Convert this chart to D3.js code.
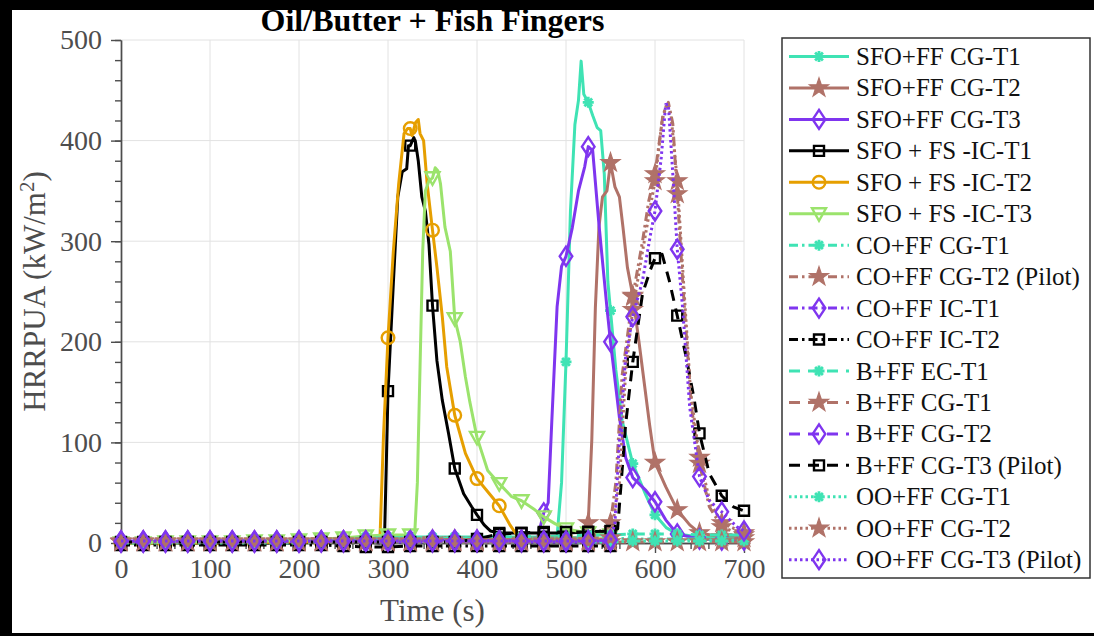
<!DOCTYPE html>
<html><head><meta charset="utf-8">
<script src="https://cdn.jsdelivr.net/npm/d3@7"></script>
<style>html,body{margin:0;padding:0;background:#000;}svg{display:block;}</style>
</head><body><svg id="c" width="1094" height="636"></svg>
<script>
// ---------------- DATA ----------------
const title = "Oil/Butter + Fish Fingers";
const xLabel = "Time (s)";
const xTicks = [0,100,200,300,400,500,600,700];
const yTicks = [0,100,200,300,400,500];
const seriesNames = [
 "SFO+FF CG-T1","SFO+FF CG-T2","SFO+FF CG-T3",
 "SFO + FS -IC-T1","SFO + FS -IC-T2","SFO + FS -IC-T3",
 "CO+FF CG-T1","CO+FF CG-T2 (Pilot)","CO+FF IC-T1","CO+FF IC-T2",
 "B+FF EC-T1","B+FF CG-T1","B+FF CG-T2","B+FF CG-T3 (Pilot)",
 "OO+FF CG-T1","OO+FF CG-T2","OO+FF CG-T3 (Pilot)"];

const sfoCgT1 = [[0,1],[25,1],[50,1],[75,1],[100,1],[125,1],[150,2],[175,2],[200,2],[225,3],[250,4],[275,6],[300,6],[325,6],[350,6],[375,6],[400,6],[425,6],[450,6],[475,6],[490,7],[495,60],[500,180],[505,330],[510,416],[514,440],[517,479],[520,446],[525,438],[530,425],[535,413],[539,410],[543,367],[547,260],[550,231],[556,172],[563,122],[575,79],[590,47],[600,28],[613,15],[625,9],[650,6],[675,5],[700,5]];
const sfoCgT2 = [[0,1],[25,1],[50,1],[75,1],[100,1],[125,1],[150,1],[175,1],[200,1],[225,2],[250,2],[275,2],[300,2],[325,2],[350,3],[375,3],[400,3],[425,3],[450,3],[475,3],[500,3],[520,4],[525,20],[529,103],[533,234],[537,314],[541,344],[546,350],[550,378],[555,354],[560,344],[564,314],[569,274],[575,246],[582,200],[594,117],[600,80],[612,56],[625,33],[639,18],[650,10],[675,6],[700,5]];
const sfoCgT3 = [[0,1],[25,1],[50,1],[75,1],[100,1],[125,1],[150,1],[175,1],[200,1],[225,2],[250,2],[275,2],[300,3],[325,3],[350,3],[375,3],[400,3],[425,3],[450,3],[468,5],[475,30],[480,40],[484,120],[490,235],[495,275],[500,285],[507,313],[514,350],[521,374],[525,394],[530,390],[537,317],[546,234],[550,200],[560,125],[567,85],[575,65],[590,52],[600,41],[612,23],[625,9],[650,4],[675,3],[700,3]];
const sfoFsIcT1 = [[0,0],[25,0],[50,0],[75,0],[100,0],[125,0],[150,0],[175,0],[200,0],[225,1],[250,1],[275,1],[290,0],[296,1],[298,75],[300,151],[306,258],[311,344],[316,369],[321,372],[323,395],[325,395],[329,403],[331,398],[334,380],[338,344],[342,330],[346,297],[350,236],[355,181],[361,142],[368,109],[375,74],[385,49],[394,36],[400,28],[408,18],[415,12],[425,10],[450,10],[475,10],[500,10],[525,11],[550,11],[555,11]];
const sfoFsIcT2 = [[0,0],[25,0],[50,0],[75,0],[100,0],[125,0],[150,0],[175,1],[200,1],[225,1],[250,2],[275,2],[288,2],[291,5],[295,108],[300,204],[306,290],[312,357],[318,407],[322,412],[325,412],[327,405],[331,418],[334,421],[336,407],[340,400],[344,357],[350,311],[355,274],[361,225],[366,175],[375,127],[387,89],[400,64],[413,50],[425,37],[437,18],[447,5],[450,4],[475,4],[500,4],[525,4],[550,4],[555,4]];
const sfoFsIcT3 = [[0,0],[25,0],[50,1],[75,1],[100,1],[125,1],[150,2],[175,2],[200,3],[225,4],[250,5],[275,7],[300,8],[325,8],[330,9],[333,60],[336,175],[339,290],[342,350],[346,360],[350,363],[353,373],[356,370],[359,357],[364,314],[370,290],[375,223],[381,201],[387,165],[392,140],[400,105],[412,72],[425,59],[439,46],[450,42],[465,33],[475,26],[488,19],[500,14],[525,10],[550,8],[555,8]];
const coCgT1 = [[0,2],[25,2],[50,2],[75,2],[100,2],[125,2],[150,2],[175,2],[200,3],[225,3],[250,4],[275,5],[300,5],[325,5],[350,5],[375,5],[400,5],[425,5],[450,5],[475,5],[500,5],[525,5],[550,5],[575,4],[600,4],[625,4],[650,4],[675,4],[700,4]];
const coCgT2 = [[0,2],[25,2],[50,2],[75,2],[100,2],[125,2],[150,2],[175,2],[200,2],[225,2],[250,2],[275,2],[300,2],[325,2],[350,2],[375,2],[400,2],[425,2],[450,2],[475,2],[500,2],[525,3],[550,20],[556,60],[563,166],[575,245],[586,300],[593,340],[600,367],[609,426],[615,438],[620,417],[625,347],[633,234],[641,135],[650,79],[661,36],[675,16],[692,10],[700,8]];
const coIcT1 = [[0,1],[25,1],[50,1],[75,1],[100,1],[125,1],[150,1],[175,1],[200,1],[225,1],[250,1],[275,1],[300,1],[325,1],[350,1],[375,1],[400,1],[425,1],[450,1],[475,1],[500,1],[525,1],[550,1],[555,1]];
const coIcT2 = [[0,-2],[25,-2],[50,-2],[75,-2],[100,-2],[125,-2],[150,-2],[175,-2],[200,-2],[225,-2],[250,-3],[275,-4],[300,-4],[325,-3],[350,-3],[375,-3],[400,-3],[425,-3],[450,-3],[475,-3],[500,-3],[525,-3],[550,-3],[555,-3]];
const bEcT1 = [[0,1],[25,1],[50,1],[75,1],[100,1],[125,1],[150,1],[175,1],[200,1],[225,2],[250,2],[275,3],[300,3],[325,4],[350,4],[375,5],[400,5],[425,6],[450,6],[475,7],[500,7],[525,8],[550,8],[575,9],[600,9],[625,9],[650,8],[675,8],[700,8]];
const bCgT1 = [[0,1],[25,1],[50,1],[75,1],[100,1],[125,1],[150,1],[175,1],[200,1],[225,1],[250,1],[275,1],[300,1],[325,1],[350,1],[375,1],[400,1],[425,1],[450,1],[475,1],[500,1],[525,1],[550,1],[575,1],[600,1],[625,1],[650,1],[675,1],[700,1]];
const bCgT2 = [[0,2],[25,2],[50,2],[75,2],[100,2],[125,2],[150,2],[175,2],[200,2],[225,2],[250,2],[275,2],[300,2],[325,2],[350,2],[375,2],[400,2],[425,2],[450,2],[475,2],[500,2],[525,2],[550,2],[555,2]];
const bCgT3 = [[0,1],[25,1],[50,1],[75,1],[100,1],[125,1],[150,1],[175,1],[200,1],[225,1],[250,1],[275,1],[300,1],[325,1],[350,1],[375,1],[400,4],[425,9],[450,10],[475,11],[500,11],[525,11],[550,12],[558,14],[562,60],[567,118],[575,180],[586,248],[595,272],[600,283],[608,287],[616,261],[625,226],[635,185],[644,143],[650,109],[661,69],[675,47],[688,36],[700,32]];
const ooCgT1 = [[0,0],[25,0],[50,0],[75,0],[100,0],[125,0],[150,0],[175,0],[200,0],[225,1],[250,1],[275,1],[300,1],[325,1],[350,1],[375,1],[400,1],[425,1],[450,1],[475,1],[500,1],[525,1],[550,1],[575,2],[600,2],[625,2],[650,2],[675,2],[700,2]];
const ooCgT2 = [[0,1],[25,1],[50,1],[75,1],[100,1],[125,1],[150,1],[175,1],[200,1],[225,1],[250,1],[275,1],[300,1],[325,1],[350,1],[375,1],[400,1],[425,1],[450,1],[475,1],[500,1],[525,2],[550,5],[560,60],[567,170],[575,232],[586,290],[600,360],[608,420],[613,436],[618,425],[625,360],[632,260],[640,150],[650,85],[662,40],[675,20],[700,10]];
const ooCgT3 = [[0,2],[25,2],[50,2],[75,2],[100,2],[125,2],[150,2],[175,2],[200,2],[225,2],[250,2],[275,2],[300,2],[325,2],[350,2],[375,2],[400,2],[425,2],[450,2],[475,2],[500,2],[525,2],[550,3],[555,20],[560,102],[567,185],[575,225],[586,261],[595,307],[600,330],[607,383],[612,436],[615,436],[620,367],[625,292],[631,234],[639,135],[650,66],[661,42],[675,31],[692,16],[700,12]];

const seriesData = [sfoCgT1,sfoCgT2,sfoCgT3,sfoFsIcT1,sfoFsIcT2,sfoFsIcT3,coCgT1,coCgT2,coIcT1,coIcT2,bEcT1,bCgT1,bCgT2,bCgT3,ooCgT1,ooCgT2,ooCgT3];

// ---------------- STYLE ----------------
const C = {turq:"#3fe3b4", brown:"#b07268", purple:"#7f35ef", black:"#000000", orange:"#e69f00", green:"#9be36c"};
const solid=null, dashdot="9,4,2.5,4", dashed="11,8", dotted="2.5,3";
const styles = [
 [C.turq,"ast",solid],[C.brown,"star",solid],[C.purple,"dia",solid],
 [C.black,"sq",solid],[C.orange,"circ",solid],[C.green,"tri",solid],
 [C.turq,"ast",dashdot],[C.brown,"star",dashdot],[C.purple,"dia",dashdot],[C.black,"sq",dashdot],
 [C.turq,"ast",dashed],[C.brown,"star",dashed],[C.purple,"dia",dashed],[C.black,"sq",dashed],
 [C.turq,"ast",dotted],[C.brown,"star",dotted],[C.purple,"dia",dotted]];

function markerPath(type){
  if(type==="dia") return "M0,-9.5L6.3,0L0,9.5L-6.3,0Z";
  if(type==="sq") return "M-5,-5H5V5H-5Z";
  if(type==="circ") return d3.symbol(d3.symbolCircle, 125)();
  if(type==="tri") return "M-7,-5.5L7,-5.5L0,7Z";
  if(type==="star"){
    let p=""; for(let i=0;i<10;i++){const r=i%2?3.9:10;const a=-Math.PI/2+i*Math.PI/5;p+=(i?"L":"M")+(r*Math.cos(a)).toFixed(2)+","+(r*Math.sin(a)).toFixed(2);} return p+"Z";
  }
  if(type==="ast"){
    let p=""; for(let i=0;i<4;i++){const a=i*Math.PI/4;const r=5.5;p+="M"+(r*Math.cos(a)).toFixed(2)+","+(r*Math.sin(a)).toFixed(2)+"L"+(-r*Math.cos(a)).toFixed(2)+","+(-r*Math.sin(a)).toFixed(2);} return p;
  }
}
function drawMarker(g, type, color){
  const p = g.append("path").attr("d", markerPath(type));
  if(type==="star") p.attr("fill",color).attr("stroke",color).attr("stroke-width",1.2);
  else if(type==="ast") p.attr("fill","none").attr("stroke",color).attr("stroke-width",2.8);
  else p.attr("fill","none").attr("stroke",color).attr("stroke-width",2.4);
}

// ---------------- CHART ----------------
const svg = d3.select("#c");
svg.append("rect").attr("x",12).attr("y",10).attr("width",1082).attr("height",623).attr("fill","#fff");

const x = d3.scaleLinear().domain([0,700]).range([121,744]);
const y = d3.scaleLinear().domain([0,500]).range([543,40]);
const axisColor = "#4d4d4d";
const font = "'Liberation Serif','Times New Roman',serif";

// grid
const grid = svg.append("g").attr("stroke","#e2e2e2").attr("stroke-width",1);
xTicks.slice(1).forEach(t=>grid.append("line").attr("x1",x(t)).attr("x2",x(t)).attr("y1",y(0)).attr("y2",y(500)));
yTicks.slice(1).forEach(t=>grid.append("line").attr("x1",x(0)).attr("x2",x(700)).attr("y1",y(t)).attr("y2",y(t)));

// axes
function styleAxis(g){
  g.selectAll("path.domain").attr("stroke",axisColor).attr("stroke-width",1.4);
  g.selectAll(".tick line").attr("stroke",axisColor).attr("stroke-width",1.4);
  g.selectAll(".tick text").attr("fill",axisColor).attr("font-family",font).attr("font-size",28);
}
const minorX = d3.range(0,701,20), minorY = d3.range(0,501,20);
svg.append("g").attr("transform",`translate(0,${y(0)})`).call(d3.axisBottom(x).tickValues(minorX).tickSize(6).tickSizeOuter(0).tickFormat("")).call(styleAxis);
svg.append("g").attr("transform",`translate(${x(0)},0)`).call(d3.axisLeft(y).tickValues(minorY).tickSize(6).tickSizeOuter(0).tickFormat("")).call(styleAxis);
svg.append("g").attr("transform",`translate(0,${y(0)})`).call(d3.axisBottom(x).tickValues(xTicks).tickSize(10).tickSizeOuter(0).tickPadding(5)).call(styleAxis);
svg.append("g").attr("transform",`translate(${x(0)},0)`).call(d3.axisLeft(y).tickValues(yTicks).tickSize(10).tickSizeOuter(0).tickPadding(9)).call(styleAxis);

// labels
svg.append("text").attr("x",(x(0)+x(700))/2).attr("y",31).attr("text-anchor","middle")
  .attr("font-family",font).attr("font-weight","bold").attr("font-size",32).attr("fill","#000").text(title);
svg.append("text").attr("x",(x(0)+x(700))/2).attr("y",621).attr("text-anchor","middle")
  .attr("font-family",font).attr("font-size",31).attr("fill",axisColor).text(xLabel);
const yl = svg.append("text").attr("transform",`translate(45,${(y(0)+y(500))/2}) rotate(-90)`).attr("text-anchor","middle")
  .attr("font-family",font).attr("font-size",31).attr("fill",axisColor);
yl.append("tspan").text("HRRPUA (kW/m");
yl.append("tspan").attr("dy",-11).attr("font-size",21).text("2");
yl.append("tspan").attr("dy",11).text(")");

// series
const line = d3.line().x(d=>x(d[0])).y(d=>y(d[1]));
seriesData.forEach((data,i)=>{
  const [color,mk,dash] = styles[i];
  const g = svg.append("g");
  g.append("path").attr("d",line(data)).attr("fill","none").attr("stroke",color).attr("stroke-width",3)
    .attr("stroke-dasharray",dash).attr("stroke-linejoin","round");
  data.filter(d=>d[0]%25===0).forEach(d=>{
    const m = g.append("g").attr("transform",`translate(${x(d[0])},${y(d[1])})`);
    drawMarker(m,mk,color);
  });
});

// legend
const lg = svg.append("g");
const lx0=782, ly0=38, lw=308, lh=540, rowH=31.45, row0=56.5;
lg.append("rect").attr("x",lx0).attr("y",ly0).attr("width",lw).attr("height",lh).attr("fill","#fff").attr("stroke","#333").attr("stroke-width",1.5);
seriesNames.forEach((name,i)=>{
  const [color,mk,dash]=styles[i];
  const cy=row0+i*rowH;
  lg.append("line").attr("x1",789).attr("x2",849).attr("y1",cy).attr("y2",cy).attr("stroke",color).attr("stroke-width",3).attr("stroke-dasharray",dash);
  const m=lg.append("g").attr("transform",`translate(819,${cy})`);
  drawMarker(m,mk,color);
  lg.append("text").attr("x",856).attr("y",cy+8.5).attr("font-family",font).attr("font-size",25).attr("fill","#111").text(name);
});
</script></body></html>
